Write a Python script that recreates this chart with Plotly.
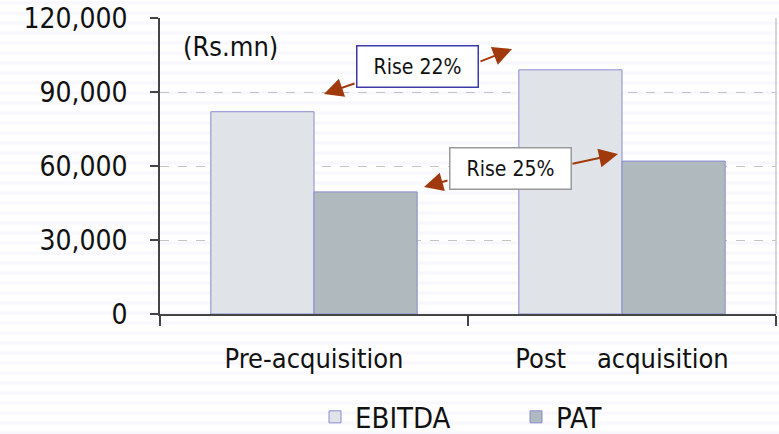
import plotly.graph_objects as go

categories = ["Pre-acquisition", "Post\u00a0\u00a0\u00a0\u00a0acquisition"]
ebitda = [82000, 99000]
pat = [49500, 62000]
y_ticks = [0, 30000, 60000, 90000, 120000]
y_tick_labels = ["0", "30,000", "60,000", "90,000", "120,000"]

FONT = "DejaVu Sans Condensed, DejaVu Sans, sans-serif"
W, H = 779, 434
L, R, T, B = 160, 3, 18, 120
pw, ph = W - L - R, H - T - B

def px(x):
    return (x - L) / pw

def py(y):
    return (T + ph - y) / ph

fig = go.Figure()
fig.add_bar(name="EBITDA", x=categories, y=ebitda,
            marker=dict(color="#e0e4e8", line=dict(color="#8a8ad0", width=1)))
fig.add_bar(name="PAT", x=categories, y=pat,
            marker=dict(color="#b0babe", line=dict(color="#8a8ad0", width=1)))

shapes = []
# faint background stripes
for i in range(0, H, 10):
    shapes.append(dict(type="line", xref="paper", yref="paper",
                       x0=px(0), x1=px(W), y0=py(i + 3), y1=py(i + 3),
                       line=dict(color="#f7f7fd", width=3), layer="below"))
# right border
shapes.append(dict(type="line", xref="paper", yref="paper", x0=1, x1=1, y0=0, y1=1,
                   line=dict(color="#c8c8c8", width=1.5)))

annotations = [
    dict(text="(Rs.mn)", xref="paper", yref="paper", x=px(181), y=py(46),
         xanchor="left", yanchor="middle", showarrow=False,
         font=dict(size=27, color="#111", family=FONT)),
    dict(text="Rise 22%", xref="paper", yref="paper", x=px(417.5), y=py(66),
         xanchor="center", yanchor="middle",
         showarrow=False, bgcolor="white", bordercolor="#3a3aa8", borderwidth=1.5,
         borderpad=8, width=104, font=dict(size=21, color="#111", family=FONT)),
    dict(text="Rise 25%", xref="paper", yref="paper", x=px(510), y=py(168),
         xanchor="center", yanchor="middle",
         showarrow=False, bgcolor="white", bordercolor="#999999", borderwidth=1.5,
         borderpad=8, width=104, font=dict(size=21, color="#111", family=FONT)),
]
arrows = [((324, 94), (356, 83)), ((512, 49), (479, 62)),
          ((424, 187), (449, 180)), ((618, 154), (571, 164))]
for (hx, hy), (tx, ty) in arrows:
    annotations.append(dict(text="", xref="paper", yref="paper", x=px(hx), y=py(hy),
                            ax=tx - hx, ay=ty - hy, showarrow=True, arrowhead=2,
                            arrowsize=1.9, arrowwidth=2, arrowcolor="#a03a0c",
                            standoff=0, startstandoff=0))

fig.update_layout(
    width=W, height=H,
    margin=dict(l=L, r=R, t=T, b=B, autoexpand=False),
    paper_bgcolor="white", plot_bgcolor="rgba(0,0,0,0)",
    barmode="group", bargap=0.33, bargroupgap=0,
    font=dict(family=FONT, color="#111"),
    showlegend=True,
    legend=dict(orientation="h", x=px(315), xanchor="left", y=py(417), yanchor="middle",
                font=dict(size=29, family=FONT), entrywidth=156,
                bgcolor="rgba(0,0,0,0)"),
    shapes=shapes,
    annotations=annotations,
)
fig.update_xaxes(type="category", range=[-0.5, 1.5], tickson="boundaries",
                 ticks="outside", ticklen=10, tickcolor="#444", tickwidth=1.5,
                 showline=True, linecolor="#444", linewidth=1.5,
                 tickfont=dict(size=27, family=FONT, color="#111"),
                 ticklabelstandoff=20, showgrid=False, automargin=False)
fig.update_yaxes(range=[0, 120000], tickvals=y_ticks, ticktext=y_tick_labels,
                 ticks="outside", ticklen=8, tickcolor="#444", tickwidth=1.5,
                 showline=True, linecolor="#444", linewidth=1.5,
                 tickfont=dict(size=28, family=FONT, color="#111"),
                 ticklabelstandoff=17, automargin=False,
                 showgrid=True, gridcolor="#c4c4c4", griddash="dash", gridwidth=1,
                 zeroline=False)

fig.write_html("out.html", config={"displayModeBar": False},
               post_script="document.body.style.margin='0';document.body.style.overflow='hidden';")
